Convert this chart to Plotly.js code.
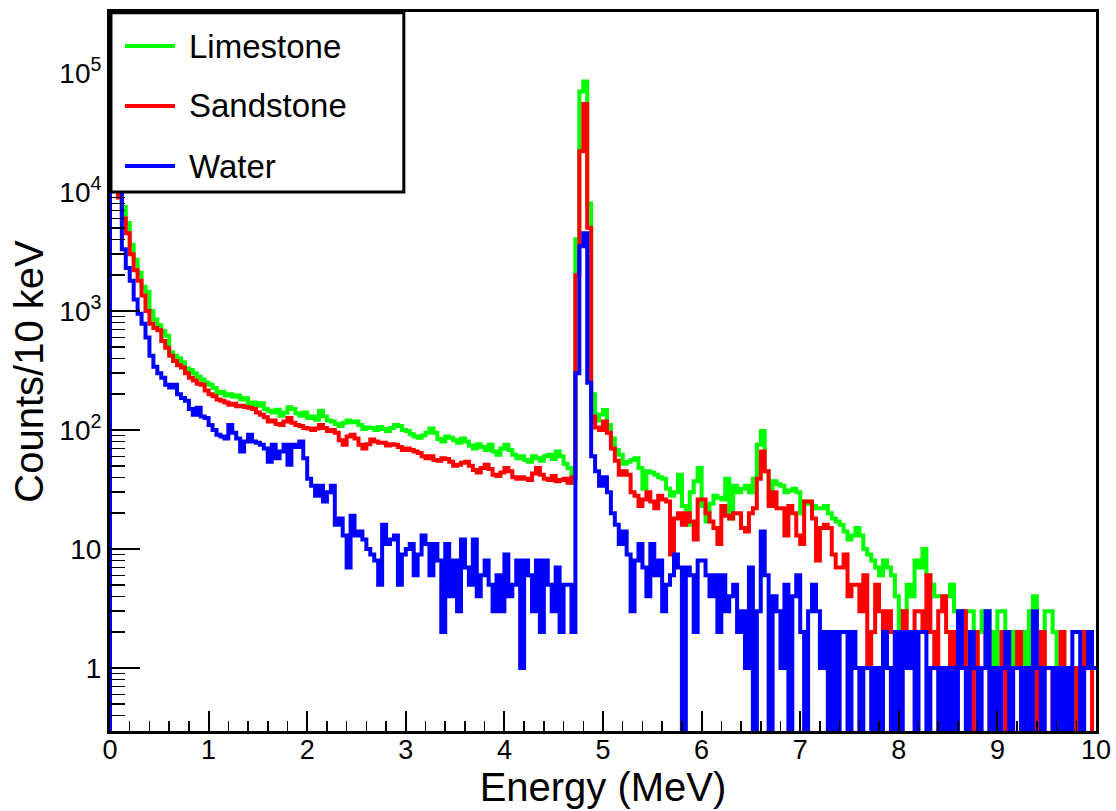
<!DOCTYPE html>
<html><head><meta charset="utf-8">
<script src="https://cdn.plot.ly/plotly-3.0.1.min.js"></script>
<style>html,body{margin:0;padding:0;background:#fff;}#chart{width:1116px;height:811px;}</style>
</head><body><div id="chart"></div>
<script>
// Energy spectra, counts per bin; bins of 0.04 MeV from 0 to 10 MeV
const binWidthMeV = 0.04;

const limestone = [
  20000, 15000, 11000, 7500, 5500, 3600, 2700, 2100, 1600, 1450, 1000, 850, 760, 680, 620, 450, 420, 400, 370, 330, 320, 300, 280, 265, 250,
  240, 225, 205, 210, 195, 200, 190, 195, 180, 185, 165, 170, 160, 168, 150, 145, 140, 148, 132, 140, 155, 150, 138, 132, 140,
  126, 130, 122, 145, 130, 120, 118, 112, 108, 115, 120, 116, 118, 110, 102, 105, 104, 100, 106, 102, 98, 104, 110, 108, 100,
  98, 92, 88, 86, 90, 95, 103, 95, 84, 80, 88, 86, 82, 78, 85, 80, 74, 70, 76, 72, 68, 75, 66, 62, 70,
  75, 68, 62, 58, 60, 56, 54, 60, 58, 55, 60, 62, 57, 66, 60, 52, 48, 36, 4000, 70000, 85000, 8000, 200, 120, 135,
  147, 110, 85, 68, 62, 52, 54, 56, 58, 48, 32, 45, 44, 42, 40, 39, 32, 28, 30, 42, 23, 16, 30, 37, 48,
  23, 17, 24, 28, 27, 26, 39, 18, 34, 30, 32, 34, 30, 39, 75, 98, 45, 26, 37, 35, 34, 30, 31, 32, 30,
  20, 25, 24, 23, 22, 22, 23, 20, 18, 17, 16, 14, 12, 13, 15, 13, 10, 9, 8, 7, 6, 8, 7, 6, 4,
  2, 3, 5, 4, 8, 7, 10, 6, 5, 4, 4, 4, 4, 5, 3, 3, 2, 3, 3, 1, 2, 3, 3, 2, 1,
  3, 3, 1, 2, 1, 2, 2, 1, 3, 4, 2, 1, 3, 3, 2, 1, 1, 0, 1, 1, 0, 1, 2, 1, 1
];

const sandstone = [
  18000, 13000, 9000, 6000, 4500, 3000, 2200, 1800, 1350, 1000, 780, 720, 690, 560, 490, 420, 380, 350, 335, 300, 275, 260, 245, 240, 215,
  200, 192, 180, 176, 170, 163, 166, 158, 160, 156, 154, 150, 140, 134, 128, 118, 120, 112, 110, 118, 126, 115, 110, 108, 104,
  103, 100, 103, 110, 104, 98, 100, 95, 82, 75, 88, 91, 85, 75, 70, 76, 83, 80, 78, 78, 74, 76, 75, 72, 68,
  70, 68, 66, 64, 60, 58, 60, 56, 55, 58, 57, 54, 50, 51, 53, 54, 50, 46, 44, 48, 51, 47, 42, 41, 44,
  48, 45, 40, 39, 40, 39, 38, 43, 48, 42, 39, 38, 41, 37, 38, 39, 36, 40, 2000, 22000, 55000, 5000, 130, 105, 100,
  118, 95, 70, 55, 42, 45, 42, 30, 28, 23, 26, 30, 25, 22, 28, 26, 25, 9, 18, 20, 16, 20, 17, 12, 26,
  26, 20, 17, 15, 11, 23, 19, 18, 20, 20, 15, 14, 20, 22, 39, 66, 45, 23, 30, 22, 22, 13, 23, 20, 13,
  11, 25, 25, 18, 8, 15, 16, 15, 9, 7, 7, 9, 4, 5, 5, 3, 6, 1, 2, 5, 3, 2, 3, 2, 1,
  2, 3, 1, 2, 3, 3, 2, 6, 2, 1, 3, 4, 2, 1, 2, 1, 3, 1, 0, 2, 1, 1, 2, 0, 1,
  1, 2, 0, 1, 1, 2, 1, 0, 1, 1, 0, 2, 1, 1, 0, 1, 2, 0, 1, 1, 0, 1, 2, 1, 0
];

const water = [
  500000, 500000, 500000, 3300, 2300, 1800, 1250, 950, 780, 600, 420, 340, 300, 275, 240, 227, 240, 200, 186, 176, 150, 134, 154, 130, 126,
  110, 100, 91, 88, 85, 110, 95, 85, 66, 80, 91, 80, 78, 75, 70, 54, 75, 58, 66, 75, 51, 75, 72, 80, 58,
  39, 34, 28, 34, 25, 30, 34, 16, 18, 13, 7, 19, 13, 14, 12, 10, 9, 8, 5, 16, 11, 12, 13, 5, 9,
  10, 11, 6, 9, 13, 11, 6, 11, 8, 2, 11, 4, 8, 3, 12, 7, 5, 12, 4, 6, 8, 5, 3, 6, 3,
  9, 4, 5, 8, 1, 8, 6, 3, 8, 2, 8, 5, 3, 7, 2, 5, 5, 2, 300, 3500, 4500, 250, 60, 45, 34,
  40, 30, 20, 16, 11, 14, 9, 3, 8, 11, 7, 4, 11, 6, 8, 3, 5, 6, 9, 7, 0, 7, 6, 2, 8,
  8, 6, 4, 6, 2, 6, 3, 4, 5, 2, 3, 1, 7, 0, 3, 14, 6, 0, 4, 3, 1, 5, 0, 4, 6,
  2, 0, 3, 5, 3, 1, 2, 0, 2, 0, 2, 2, 0, 2, 1, 0, 1, 1, 0, 1, 0, 2, 1, 0, 2,
  0, 2, 1, 2, 0, 2, 2, 0, 1, 1, 0, 1, 0, 1, 0, 3, 1, 0, 2, 1, 0, 1, 3, 0, 1,
  0, 1, 2, 0, 1, 1, 0, 1, 0, 3, 1, 0, 1, 1, 0, 1, 0, 1, 0, 2, 2, 0, 1, 2, 1
];

const seriesNames = ['Limestone', 'Sandstone', 'Water'];
const seriesColors = ['#00ff00', '#ff0000', '#0000ff'];
const xTickVals = [0, 1, 2, 3, 4, 5, 6, 7, 8, 9, 10];
const yTickVals = [1, 10, 100, 1000, 10000, 100000];
const yTickText = ['1', '10', '10<sup>2</sup>', '10<sup>3</sup>', '10<sup>4</sup>', '10<sup>5</sup>'];

const FONT = 'Liberation Sans, Arial, Helvetica, sans-serif';
const FLOOR = 0.01; // empty bins drawn below the visible range (log axis)

function stepTrace(counts, name, color) {
  const x = [0], y = [FLOOR];
  counts.forEach((c, i) => { x.push(i * binWidthMeV); y.push(c > 0 ? c : FLOOR); });
  const last = counts[counts.length - 1];
  x.push(counts.length * binWidthMeV); y.push(last > 0 ? last : FLOOR);
  return {
    type: 'scatter', mode: 'lines', x: x, y: y, name: name,
    line: { color: color, width: 4, shape: 'hv' },
    showlegend: false, hoverinfo: 'skip'
  };
}

const data = [
  stepTrace(limestone, seriesNames[0], seriesColors[0]),
  stepTrace(sandstone, seriesNames[1], seriesColors[1]),
  stepTrace(water, seriesNames[2], seriesColors[2])
];

// manual legend box (ROOT TLegend look)
const legY = [0.9527, 0.8693, 0.7858];
const shapes = [{
  type: 'rect', xref: 'paper', yref: 'paper', x0: 0.001, x1: 0.298, y0: 0.7497, y1: 0.999,
  fillcolor: 'white', line: { color: 'black', width: 3 }, layer: 'above'
}];
const annotations = [];
seriesNames.forEach((n, k) => {
  shapes.push({ type: 'line', xref: 'paper', yref: 'paper', x0: 0.0152, x1: 0.0659, y0: legY[k], y1: legY[k],
    line: { color: seriesColors[k], width: 4 }, layer: 'above' });
  annotations.push({ xref: 'paper', yref: 'paper', x: 0.0781, y: legY[k], xanchor: 'left', yanchor: 'middle',
    text: n, showarrow: false, font: { family: FONT, size: 33, color: 'black' } });
});

const layout = {
  width: 1116, height: 811,
  margin: { l: 110, r: 20, t: 12, b: 80 },
  paper_bgcolor: 'white', plot_bgcolor: 'white',
  font: { family: FONT, color: 'black' },
  showlegend: false,
  xaxis: {
    range: [0, 10], tickmode: 'array', tickvals: xTickVals,
    ticks: 'inside', ticklen: 20, tickwidth: 2, tickcolor: 'black',
    minor: { ticks: 'inside', dtick: 0.2, ticklen: 10, tickwidth: 1.5, tickcolor: 'black' },
    showline: true, linewidth: 3, linecolor: 'black', mirror: true,
    showgrid: false, zeroline: false,
    ticklabelstandoff: -7,
    tickfont: { family: FONT, size: 27, color: 'black' },
    title: { text: 'Energy (MeV)', font: { family: FONT, size: 40, color: 'black' }, standoff: 6 }
  },
  yaxis: {
    type: 'log', range: [-0.53, 5.513], tickmode: 'array', tickvals: yTickVals, ticktext: yTickText,
    ticks: 'inside', ticklen: 30, tickwidth: 2, tickcolor: 'black',
    minor: { ticks: 'inside', dtick: 'D1', ticklen: 15, tickwidth: 1.5, tickcolor: 'black' },
    showline: true, linewidth: 3, linecolor: 'black', mirror: true,
    showgrid: false, zeroline: false,
    tickfont: { family: FONT, size: 28, color: 'black' },
    title: { text: 'Counts/10 keV', font: { family: FONT, size: 40, color: 'black' }, standoff: 4 }
  },
  shapes: shapes,
  annotations: annotations
};

Plotly.newPlot('chart', data, layout, { displayModeBar: false, staticPlot: true });
</script>
</body></html>
